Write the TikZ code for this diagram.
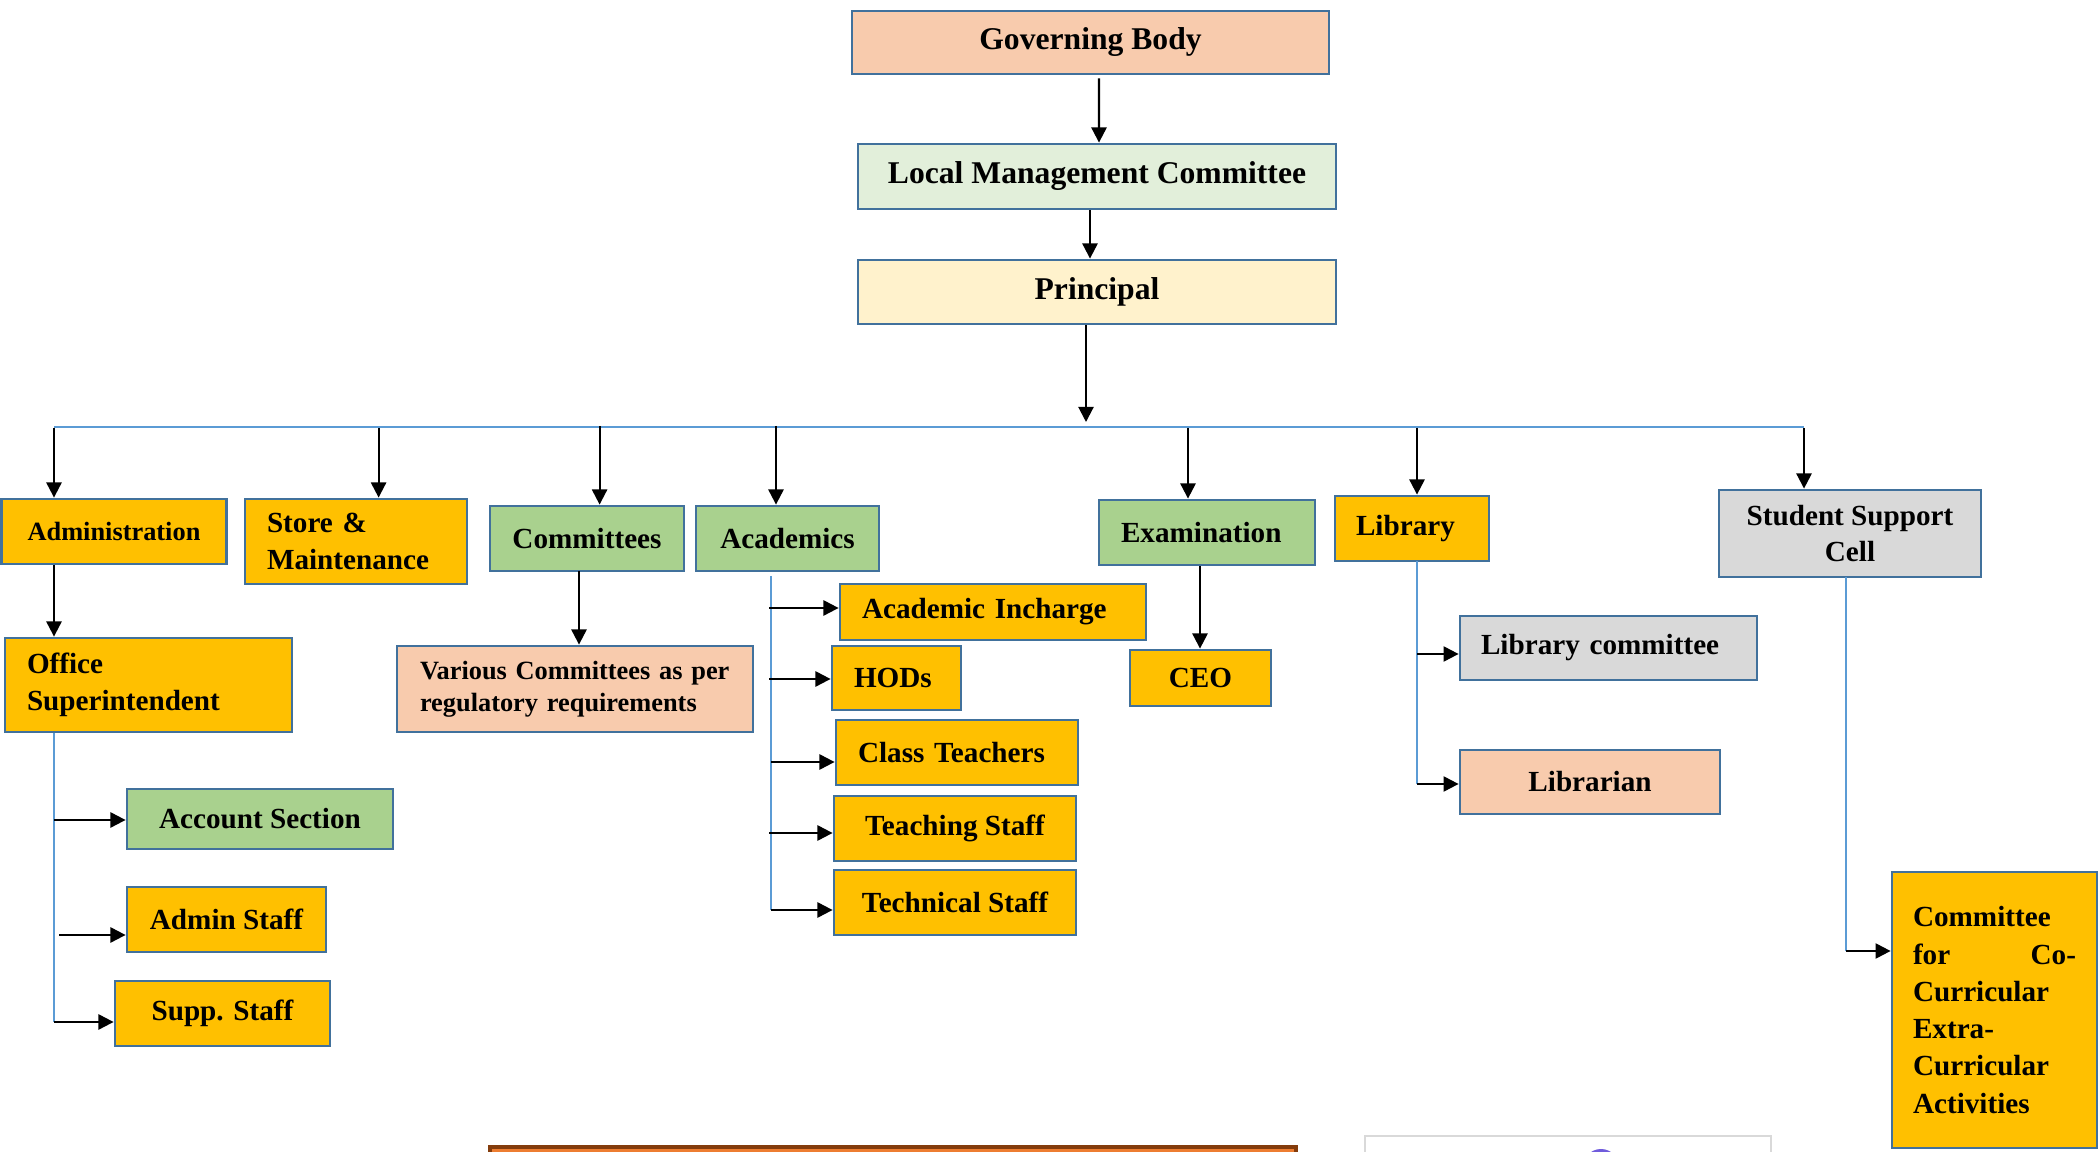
\documentclass[tikz,border=0pt]{standalone}
\usepackage{fontspec}
\setmainfont{Liberation Serif}
\usetikzlibrary{arrows.meta}

\definecolor{edge}{RGB}{65,113,156}
\definecolor{peach}{RGB}{248,203,173}
\definecolor{mint}{RGB}{226,239,218}
\definecolor{cream}{RGB}{255,242,204}
\definecolor{gold}{RGB}{255,192,0}
\definecolor{leaf}{RGB}{169,209,142}
\definecolor{silver}{RGB}{217,217,217}
\definecolor{wire}{RGB}{91,155,213}
\definecolor{rust}{RGB}{237,125,49}
\definecolor{umber}{RGB}{132,60,12}
\definecolor{badge}{RGB}{112,92,220}

\tikzset{
  unit/.style={rectangle, draw=edge, line width=0.8pt, inner xsep=0pt, inner ysep=0pt,
    font=\bfseries\fontsize{8.3}{10.4}\selectfont},
  big/.style={font=\bfseries\fontsize{9}{11}\selectfont},
  small/.style={font=\bfseries\fontsize{7.5}{9.2}\selectfont},
  arr/.style={draw=black, line width=0.6pt, -{Triangle[length=4.3pt,width=4.3pt]}},
  wireline/.style={draw=wire, line width=0.45pt},
}

\begin{document}
\begin{tikzpicture}[x=0.1mm, y=-0.1mm]
\useasboundingbox (0,0) rectangle (2100,1152);
\fill[white] (0,0) rectangle (2100,1152);

% top of the hierarchy
\node[unit, big, fill=peach, minimum width=47.7mm, minimum height=6.3mm] (gb) at (1090.5,42.5) {Governing Body};
\node[unit, big, fill=mint, minimum width=47.8mm, minimum height=6.5mm] (lmc) at (1097,176.5) {Local Management Committee};
\node[unit, big, fill=cream, minimum width=47.8mm, minimum height=6.4mm] (prin) at (1097,292) {Principal};

% departments
\node[unit, small, fill=gold, minimum width=22.5mm, minimum height=6.5mm] (admin) at (114,531.5) {Administration};
\node[unit, fill=gold, minimum width=22.2mm, minimum height=8.5mm, text width=17.8mm, align=left] (store) at (356,541.5) {Store \&\\Maintenance};
\node[unit, fill=leaf, minimum width=19.4mm, minimum height=6.5mm] (comm) at (587,538.5) {Committees};
\node[unit, fill=leaf, minimum width=18.3mm, minimum height=6.5mm] (acad) at (787.5,538.5) {Academics};
\node[unit, fill=leaf, minimum width=21.6mm, minimum height=6.5mm, text width=17.2mm, align=left] (exam) at (1207,532.5) {Examination};
\node[unit, fill=gold, minimum width=15.4mm, minimum height=6.5mm, text width=11.2mm, align=left] (lib) at (1412,528.5) {Library};
\node[unit, fill=silver, minimum width=26.2mm, minimum height=8.7mm, align=center] (ssc) at (1850,533.5) {Student Support\\Cell};

% administration branch
\node[unit, fill=gold, minimum width=28.7mm, minimum height=9.4mm, text width=24.3mm, align=left] (os) at (148.5,685) {Office\\Superintendent};
\node[unit, fill=leaf, minimum width=26.6mm, minimum height=6.0mm] (acct) at (260,819) {Account Section};
\node[unit, fill=gold, minimum width=19.9mm, minimum height=6.5mm] (adminst) at (226.5,919.5) {Admin Staff};
\node[unit, fill=gold, minimum width=21.5mm, minimum height=6.5mm] (supp) at (222.5,1013.5) {Supp. Staff};

% committees branch
\node[unit, small, fill=peach, minimum width=35.6mm, minimum height=8.6mm, text width=31.0mm, align=left] (various) at (575,689) {Various Committees as per\\regulatory requirements};

% academics branch
\node[unit, fill=gold, minimum width=30.6mm, minimum height=5.6mm, text width=26.2mm, align=left] (acinc) at (993,612) {Academic Incharge};
\node[unit, fill=gold, minimum width=12.9mm, minimum height=6.4mm, text width=8.5mm, align=left] (hods) at (896.5,678) {HODs};
\node[unit, fill=gold, minimum width=24.2mm, minimum height=6.5mm, text width=19.8mm, align=left] (classt) at (957,752.5) {Class Teachers};
\node[unit, fill=gold, minimum width=24.2mm, minimum height=6.5mm] (teach) at (955,828.5) {Teaching Staff};
\node[unit, fill=gold, minimum width=24.2mm, minimum height=6.5mm] (tech) at (955,902.5) {Technical Staff};

% examination branch
\node[unit, fill=gold, minimum width=14.1mm, minimum height=5.6mm] (ceo) at (1200.5,678) {CEO};

% library branch
\node[unit, fill=silver, minimum width=29.7mm, minimum height=6.4mm, text width=25.5mm, align=left] (libc) at (1608.5,648) {Library committee};
\node[unit, fill=peach, minimum width=26.0mm, minimum height=6.4mm] (librarian) at (1590,782) {Librarian};

% student support branch
\node[unit, fill=gold, minimum width=20.5mm, minimum height=27.6mm, text width=16.3mm, align=left,
  font=\bfseries\fontsize{8.3}{10.6}\selectfont] (cocurr) at (1994.5,1010)
  {Committee\\for\hfill Co-\\Curricular\\Extra-\\Curricular\\Activities};

% vertical chain
\draw[arr] ([xshift=0.85mm,yshift=-0.3mm]gb.south) -- ([xshift=0.2mm]lmc.north);
\draw[arr] ([xshift=-0.7mm]lmc.south) -- ([xshift=-0.7mm]prin.north);

% distribution bus
\coordinate (busL) at (54,427);
\coordinate (busR) at (1804,427);
\draw[wireline] (busL) -- (busR);
\coordinate (pdrop) at (1086,422);
\draw[arr] (prin.south -| pdrop) -- (pdrop);

\coordinate (dAdm) at (54,428);
\coordinate (dSto) at (378.6,428);
\coordinate (dCom) at (599.6,426);
\coordinate (dAca) at (776,426);
\coordinate (dExa) at (1188,428);
\coordinate (dLib) at (1417,428);
\coordinate (dSsc) at (1804,428);
\draw[arr] (dAdm) -- (dAdm |- admin.north);
\draw[arr] (dSto) -- (dSto |- store.north);
\draw[arr] (dCom) -- (dCom |- comm.north);
\draw[arr] (dAca) -- (dAca |- acad.north);
\draw[arr] (dExa) -- (dExa |- exam.north);
\draw[arr] (dLib) -- (dLib |- lib.north);
\draw[arr] (dSsc) -- (dSsc |- ssc.north);

% administration links
\draw[arr] (dAdm |- admin.south) -- (dAdm |- os.north);
\coordinate (osEnd) at (54,1022);
\draw[wireline] (dAdm |- os.south) -- (osEnd);
\coordinate (osA) at (54,820);
\coordinate (osB) at (59,935);
\draw[arr] (osA) -- (osA -| acct.west);
\draw[arr] (osB) -- (osB -| adminst.west);
\draw[arr] (osEnd) -- (osEnd -| supp.west);

% committees link
\coordinate (cmX) at (579,571);
\draw[arr] (cmX) -- (cmX |- various.north);

% academics links
\coordinate (acTop) at (771,576);
\coordinate (acBot) at (771,910);
\draw[wireline] (acTop) -- (acBot);
\coordinate (ac1) at (769,608);
\coordinate (ac2) at (769,679);
\coordinate (ac3) at (771,762);
\coordinate (ac4) at (769,833);
\draw[arr] (ac1) -- (ac1 -| acinc.west);
\draw[arr] (ac2) -- (ac2 -| hods.west);
\draw[arr] (ac3) -- (ac3 -| classt.west);
\draw[arr] (ac4) -- (ac4 -| teach.west);
\draw[arr] (acBot) -- (acBot -| tech.west);

% examination link
\coordinate (exX) at (1200,566);
\draw[arr] (exX) -- (exX |- ceo.north);

% library links
\coordinate (lbTop) at (1417,561);
\coordinate (lbBot) at (1417,784);
\draw[wireline] (lbTop) -- (lbBot);
\coordinate (lb1) at (1417,654);
\draw[arr] (lb1) -- (lb1 -| libc.west);
\draw[arr] (lbBot) -- (lbBot -| librarian.west);

% student support link
\coordinate (ssTop) at (1846,577);
\coordinate (ssBot) at (1846,951);
\draw[wireline] (ssTop) -- (ssBot);
\draw[arr] (ssBot) -- (ssBot -| cocurr.west);

% shapes running off the lower edge
\begin{scope}
  \clip (0,0) rectangle (2100,1152);
  \draw[draw=umber, line width=1.2pt, fill=rust] (490,1147) rectangle (1296,1200);
  \draw[draw=black!15, line width=0.4pt, fill=white] (1365,1136) rectangle (1771,1200);
  \fill[badge] (1601,1167) circle (1.8mm);
\end{scope}
\end{tikzpicture}
\end{document}
